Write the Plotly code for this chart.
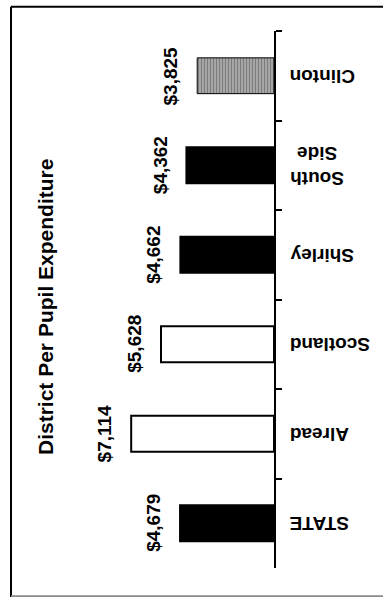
import plotly.graph_objects as go

# District spending, listed top to bottom
districts = ["Clinton", "South Side", "Shirley", "Scotland", "Alread", "STATE"]
tick_text = ["Clinton", "South<br>Side", "Shirley", "Scotland", "Alread", "STATE"]
spending = [3825, 4362, 4662, 5628, 7114, 4679]
value_text = ["$3,825", "$4,362", "$4,662", "$5,628", "$7,114", "$4,679"]
title_text = "District Per Pupil Expenditure"

fills = ["#b4b4b4", "black", "black", "white", "white", "black"]
patterns = ["|", "", "", "", "", ""]
outline_widths = [1, 2, 2, 2, 2, 2]

FONT = "Liberation Sans, Arial, Helvetica, sans-serif"

fig = go.Figure()
fig.add_trace(go.Bar(
    x=spending,
    y=districts,
    orientation="h",
    width=0.40,
    marker=dict(
        color=fills,
        line=dict(color="black", width=outline_widths),
        pattern=dict(shape=patterns, fgcolor="black", bgcolor="#b4b4b4",
                     size=3, solidity=0.5, fillmode="overlay"),
    ),
    hoverinfo="skip",
))

annotations = []
# dollar labels beside each bar, reading bottom to top
for d, v, t in zip(districts, spending, value_text):
    annotations.append(dict(
        x=v, y=d, xref="x", yref="y", text=t, textangle=-90,
        xanchor="right", yanchor="middle", xshift=-14, showarrow=False,
        font=dict(family=FONT, size=19, color="black", weight="bold"),
    ))
# category names, turned upside down, on the right of the axis
for d, t in zip(districts, tick_text):
    annotations.append(dict(
        x=1, y=d, xref="paper", yref="y", text=t, textangle=180,
        xanchor="left", yanchor="middle", xshift=14, align="center",
        showarrow=False,
        font=dict(family=FONT, size=19, color="black", weight="bold"),
    ))
# chart title
annotations.append(dict(
    x=(45 - 11) / 263, y=(568 - 307) / 537, xref="paper", yref="paper",
    text=title_text, textangle=-90, xanchor="center", yanchor="middle",
    showarrow=False,
    font=dict(family=FONT, size=21, color="black", weight="bold"),
))

# page frame
shapes = [
    dict(type="line", xref="paper", yref="paper", x0=0, x1=0,
         y0=-0.054, y1=1.045, line=dict(color="black", width=2)),
    dict(type="line", xref="paper", yref="paper", x0=0, x1=1.42,
         y0=1.045, y1=1.045, line=dict(color="black", width=2)),
    dict(type="line", xref="paper", yref="paper", x0=0, x1=1.42,
         y0=-0.0525, y1=-0.0525, line=dict(color="#8a8a8a", width=2)),
]

fig.update_layout(
    width=383, height=597,
    margin=dict(l=11, r=109, t=31, b=29),
    paper_bgcolor="white", plot_bgcolor="white",
    showlegend=False,
    bargap=0.6,
    xaxis=dict(range=[13100, 0], visible=False, fixedrange=True),
    yaxis=dict(
        type="category", categoryorder="array", categoryarray=districts,
        range=[5.5, -0.5], side="right",
        showline=True, linecolor="black", linewidth=2,
        ticks="outside", ticklen=6, tickwidth=2, tickcolor="black",
        tickson="boundaries", showticklabels=False,
        showgrid=False, zeroline=False, fixedrange=True,
    ),
    annotations=annotations,
    shapes=shapes,
)

fig.write_html("out.html")
